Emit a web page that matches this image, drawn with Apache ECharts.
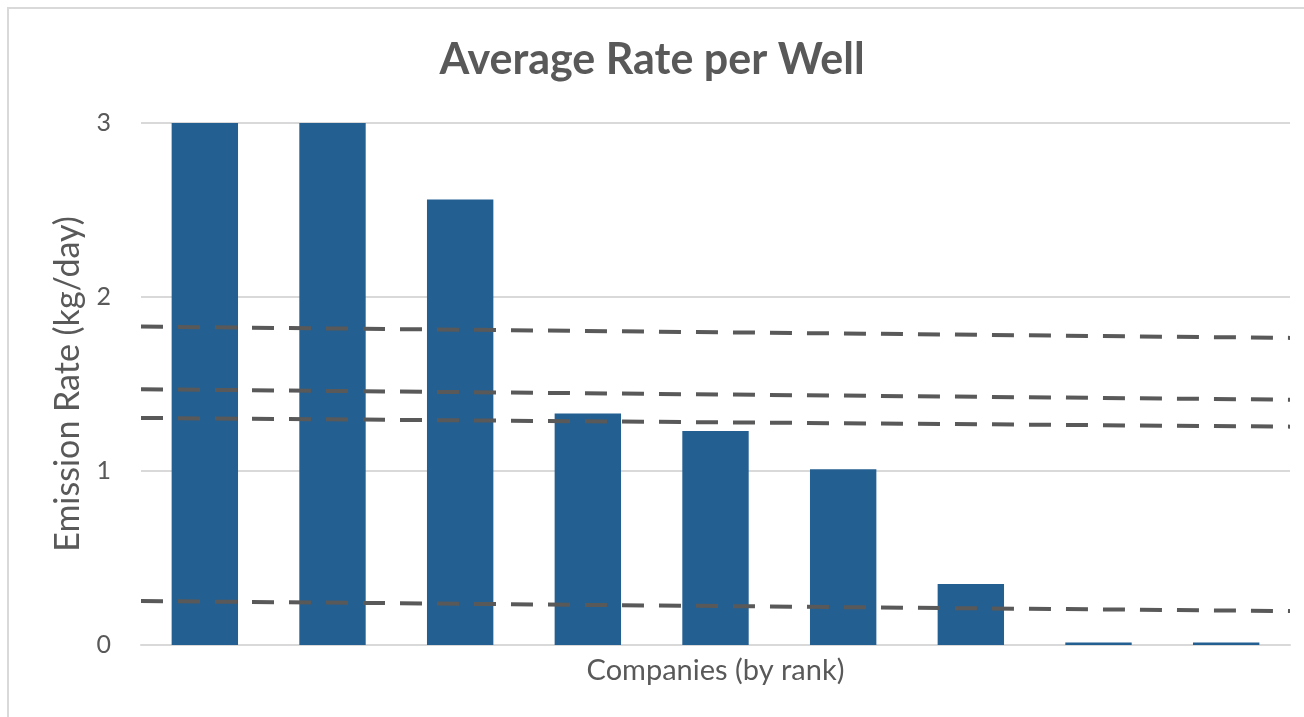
<!DOCTYPE html>
<html><head><meta charset="utf-8">
<script src="https://cdn.jsdelivr.net/npm/echarts@6/dist/echarts.min.js"></script>
<style>
html,body{margin:0;padding:0;background:#fff;overflow:hidden;}
#frame{position:absolute;left:7px;top:7px;width:1320px;height:730px;border:2px solid #d9d9d9;box-sizing:border-box;}
#c{position:absolute;left:0;top:0;width:1304px;height:717px;}
</style></head>
<body>
<div id="frame"></div>
<div id="c"></div>
<script>
const categories = ['1','2','3','4','5','6','7','8','9'];
const rates = [3.4, 3.3, 2.56, 1.33, 1.23, 1.01, 0.35, 0.015, 0.015];
const yTicks = [0, 1, 2, 3];
// reference lines: [value at left edge, value at right edge]
const refLine1 = [1.83, 1.765];
const refLine2 = [1.47, 1.41];
const refLine3 = [1.305, 1.255];
const refLine4 = [0.253, 0.195];
const refLines = [refLine1, refLine2, refLine3, refLine4];

const chart = echarts.init(document.getElementById('c'));
const font = 'Lato, "Open Sans", sans-serif';
const series = [{
  type: 'bar', data: rates, barWidth: '52%', xAxisIndex: 0, yAxisIndex: 0,
  itemStyle: {color: '#245f91'}, z: 2
}];
refLines.forEach(l => series.push({
  type: 'line', xAxisIndex: 1, yAxisIndex: 0, data: [[0, l[0]], [1, l[1]]],
  symbol: 'none', silent: true, z: 5,
  lineStyle: {color: '#595959', width: 4, type: [22, 15]}
}));
chart.setOption({
  animation: false,
  title: {text: 'Average Rate per Well', left: 'center', top: 34,
    textStyle: {fontFamily: font, fontSize: 43, fontWeight: 'bold', color: '#595959'}},
  grid: {left: 141, right: 14, top: 123, bottom: 72},
  xAxis: [{
    type: 'category', data: categories,
    axisLine: {lineStyle: {color: '#d9d9d9', width: 2}},
    axisTick: {show: false}, axisLabel: {show: false},
    name: 'Companies (by rank)', nameLocation: 'middle', nameGap: 11,
    nameTextStyle: {fontFamily: font, fontSize: 29, color: '#595959', verticalAlign: 'top'}
  }, {
    type: 'value', min: 0, max: 1, show: false
  }],
  yAxis: {
    type: 'value', min: 0, max: 3, interval: 1,
    axisLine: {show: false}, axisTick: {show: false},
    splitLine: {lineStyle: {color: '#d9d9d9', width: 2}},
    axisLabel: {fontFamily: font, fontSize: 25, color: '#595959', margin: 30,
      formatter: v => yTicks.includes(v) ? String(v) : ''},
    name: 'Emission Rate (kg/day)', nameLocation: 'middle', nameGap: 56,
    nameTextStyle: {fontFamily: font, fontSize: 34, color: '#595959'}
  },
  series: series
});
</script>
</body></html>
